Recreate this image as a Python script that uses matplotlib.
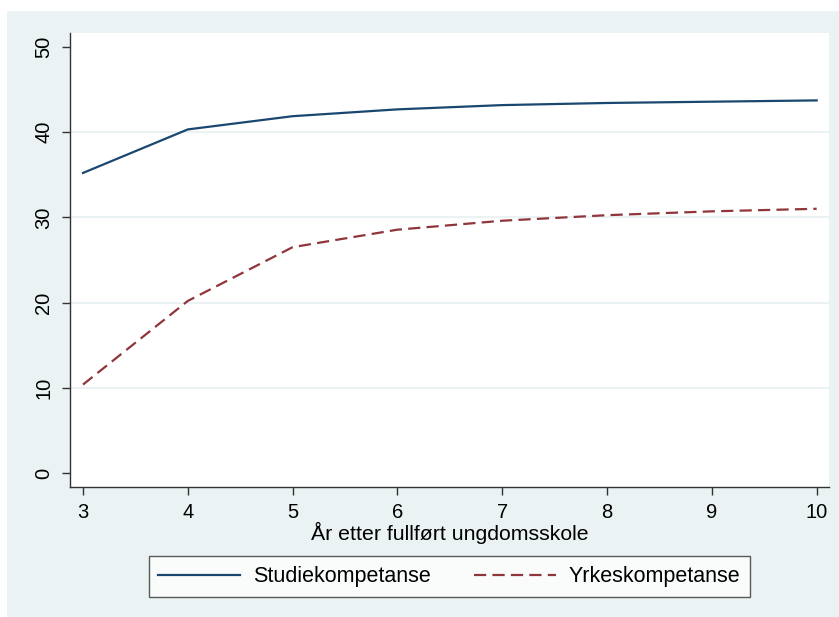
import matplotlib
matplotlib.use("Agg")
import matplotlib.pyplot as plt
from matplotlib.patches import Rectangle

plt.rcParams['font.family'] = ['Liberation Sans', 'DejaVu Sans']

# Data
years = [3, 4, 5, 6, 7, 8, 9, 10]
studiekompetanse = [35.2, 40.3, 41.85, 42.65, 43.15, 43.4, 43.55, 43.7]
yrkeskompetanse = [10.4, 20.2, 26.5, 28.55, 29.6, 30.25, 30.7, 31.0]
yticks = [0, 10, 20, 30, 40, 50]
grid_values = [10, 20, 30, 40]
series_labels = ["Studiekompetanse", "Yrkeskompetanse"]
xlabel = "År etter fullført ungdomsskole"

NAVY = "#1a476f"
MAROON = "#90353b"
BG = "#eaf2f3"
SPINE = "#333333"

W, H = 839, 617
fig = plt.figure(figsize=(W / 100, H / 100), dpi=100, facecolor="white")

# Stata-style graph region (light blue-grey) behind the plot
bg = Rectangle((7 / W, 0), 1 - 7 / W, (H - 11) / H,
               transform=fig.transFigure, facecolor=BG, edgecolor="none")
bg.set_zorder(-10)
fig.add_artist(bg)

ax = fig.add_axes([70 / W, (H - 486.7) / H, (828.7 - 70) / W, (486.7 - 33) / H])
ax.set_zorder(1)
ax.set_facecolor("white")

for g in grid_values:
    ax.axhline(g, color=BG, linewidth=1.5, zorder=1)

ax.plot(years, studiekompetanse, color=NAVY, linewidth=1.6,
        label=series_labels[0], zorder=3)
ax.plot(years, yrkeskompetanse, color=MAROON, linewidth=1.6,
        dashes=(5.5, 2.8), label=series_labels[1], zorder=3)

ax.set_xlim(2.876, 10.115)
ax.set_ylim(-1.57, 51.6)
ax.set_xticks(years)
ax.set_yticks(yticks)
ax.set_yticklabels([str(v) for v in yticks], rotation=90, va="center")

for side in ("top", "right"):
    ax.spines[side].set_visible(False)
for side in ("left", "bottom"):
    ax.spines[side].set_color(SPINE)
    ax.spines[side].set_linewidth(1.0)

ax.tick_params(axis="both", length=6, width=1.0, color=SPINE,
               labelsize=14.5, pad=6)
ax.set_xlabel(xlabel, fontsize=15.3, labelpad=0)

leg = ax.legend(loc="upper center", bbox_to_anchor=(0.5, -0.13), ncol=2,
                fontsize=15.5, frameon=True, fancybox=False, handlelength=3.8,
                handletextpad=0.6, columnspacing=2.0, borderpad=0.45)
leg.get_frame().set_edgecolor(SPINE)
leg.get_frame().set_linewidth(1.0)
leg.get_frame().set_facecolor("white")

fig.savefig("out.png", dpi=100, facecolor="white")
